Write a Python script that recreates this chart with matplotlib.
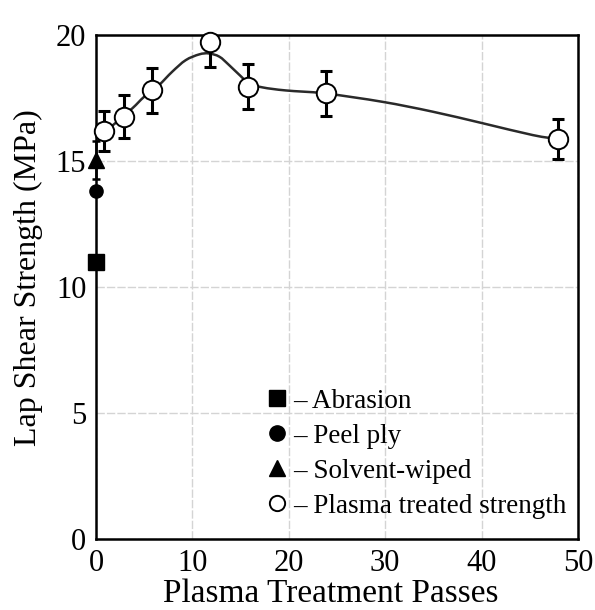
import numpy as np
import matplotlib

matplotlib.use("Agg")
import matplotlib.pyplot as plt
from matplotlib import rcParams
from matplotlib.path import Path
from matplotlib.patches import PathPatch

rcParams.update({
    "font.family": "serif",
    "font.serif": ["Liberation Serif", "DejaVu Serif"],
    "axes.linewidth": 1.8,
})

# ── data ─────────────────────────────────────────────────────────────
passes = [0.8, 2.9, 5.8, 11.8, 15.8, 23.9, 47.9]
strength = [16.2, 16.75, 17.8, 19.72, 17.95, 17.68, 15.87]
strength_err = [0.8, 0.85, 0.9, 1.0, 0.9, 0.9, 0.8]

# smooth trend line through the plasma data (knots)
trend_x = [0, 0.8, 2.0, 3.8, 5.0, 6.5, 7.9, 9.3, 10.7, 11.7, 12.8, 13.8,
           14.9, 15.9, 17.3, 19.7, 23.8, 29.7, 34.9, 40.1, 45.3, 47.9]
trend_y = [15.7, 16.1, 16.5, 17.1, 17.55, 18.0, 18.54, 19.0, 19.23, 19.27,
           19.14, 18.81, 18.41, 18.08, 17.92, 17.8, 17.68, 17.35, 16.96,
           16.5, 16.03, 15.87]

abrasion = 11.0
peel_ply = 13.8
solvent = 15.05
solvent_err = 0.75

x_ticks = [0, 10, 20, 30, 40, 50]
y_ticks = [0, 5, 10, 15, 20]


def smooth_path(xs, ys):
    # Catmull-Rom knots turned into cubic Bezier segments
    p = np.column_stack([xs, ys]).astype(float)
    verts = [p[0]]
    codes = [Path.MOVETO]
    for i in range(len(p) - 1):
        p0 = p[i - 1] if i > 0 else p[i]
        p3 = p[i + 2] if i + 2 < len(p) else p[i + 1]
        c1 = p[i] + (p[i + 1] - p0) / 6
        c2 = p[i + 1] - (p3 - p[i]) / 6
        verts += [c1, c2, p[i + 1]]
        codes += [Path.CURVE4] * 3
    return Path(verts, codes)


fig = plt.figure(figsize=(5.95, 6.10), dpi=100)
ax = fig.add_axes([0.1613, 0.1164, 0.8101, 0.8262])

ax.grid(True, color="#d4d4d4", lw=1.0, ls=(0, (6, 1.5)))
ax.set_axisbelow(True)

ax.add_patch(PathPatch(smooth_path(trend_x, trend_y), fill=False,
                       edgecolor="#2a2a2a", lw=1.8, zorder=3))
ax.errorbar(passes, strength, yerr=strength_err, fmt="none", ecolor="black",
            elinewidth=2.2, capsize=4.5, capthick=2.2, zorder=4)
ax.plot(passes, strength, "o", ms=14, mfc="white", mec="black", mew=1.4,
        zorder=5, clip_on=False, label="– Plasma treated strength")

ax.errorbar([0], [solvent], yerr=[solvent_err], fmt="none", ecolor="black",
            elinewidth=1.8, capsize=3, capthick=1.8, zorder=4, clip_on=False)
ax.plot([0], [abrasion], "s", ms=11, color="black", zorder=6,
        clip_on=False, label="– Abrasion")
ax.plot([0], [peel_ply], "o", ms=9.5, color="black", zorder=6,
        clip_on=False, label="– Peel ply")
ax.plot([0], [solvent], "^", ms=11, color="black", zorder=6,
        clip_on=False, label="– Solvent-wiped")

ax.set_xlim(0, 50)
ax.set_ylim(0, 20)
ax.set_xticks(x_ticks)
ax.set_yticks(y_ticks)
ax.tick_params(length=0, labelsize=22, pad=7)
ax.set_xlabel("Plasma Treatment Passes", fontsize=24)
ax.set_ylabel("Lap Shear Strength (MPa)", fontsize=23)
ax.xaxis.set_label_coords(0.487, -0.078)
ax.yaxis.set_label_coords(-0.11, 0.518)

handles, labels = ax.get_legend_handles_labels()
order = [1, 2, 3, 0]
leg = ax.legend([handles[i] for i in order], [labels[i] for i in order],
                loc="lower right", bbox_to_anchor=(1.01, 0.008),
                frameon=False, fontsize=19.5, handlelength=0.9,
                handletextpad=0.15, labelspacing=0.37, borderaxespad=0.2)
for h in leg.legend_handles:
    h.set_markersize(11)

fig.savefig("out.png", dpi=100)
